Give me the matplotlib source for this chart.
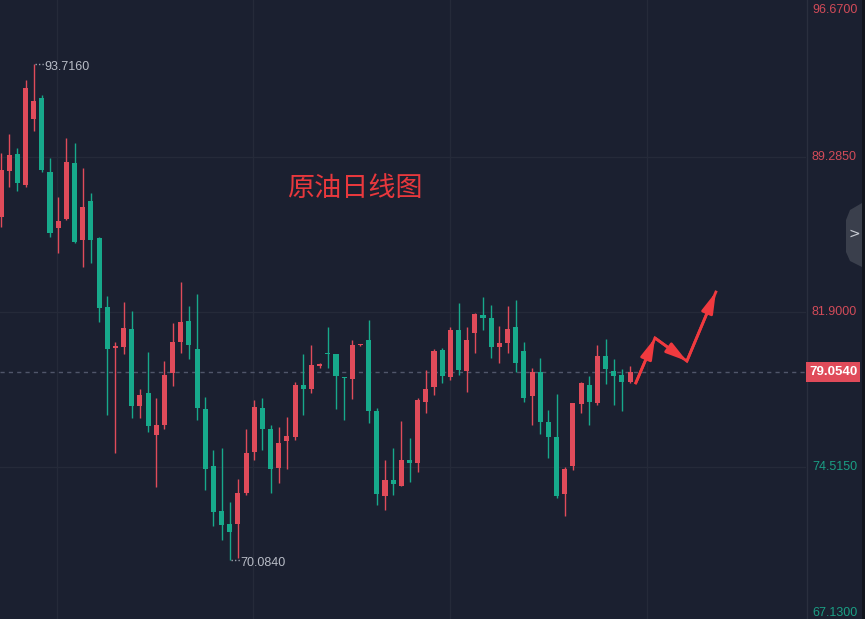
import matplotlib
matplotlib.use('Agg')
import matplotlib.pyplot as plt
import matplotlib.transforms as mtransforms
from matplotlib.patches import Rectangle, Polygon
import numpy as np

# daily crude oil candles (open / high / low / close)
opens = [86.43, 88.62, 89.43, 87.96, 91.10, 92.10, 88.57, 85.91, 86.34, 89.00,
         85.34, 87.19, 85.43, 82.15, 80.19, 80.24, 81.10, 77.43, 78.05, 76.05,
         76.53, 79.00, 80.48, 81.48, 80.15, 77.29, 74.57, 72.43, 71.81, 71.81,
         73.29, 75.24, 77.34, 76.34, 74.48, 75.77, 75.96, 78.43, 78.24, 79.36,
         79.93, 79.91, 78.79, 78.72, 80.32, 80.58, 77.19, 73.15, 73.91, 73.62,
         74.86, 74.72, 77.62, 78.34, 80.10, 78.81, 81.05, 79.10, 80.91, 81.77,
         81.62, 80.24, 80.43, 81.19, 80.05, 77.91, 79.05, 76.67, 75.96, 73.24,
         74.57, 77.53, 78.43, 77.57, 79.81, 79.10, 78.91, 78.57]
highs = [89.48, 90.38, 89.72, 92.96, 93.716, 92.24, 89.24, 87.38, 90.19, 89.96,
         88.77, 87.57, 85.48, 82.67, 80.48, 82.38, 81.96, 78.24, 80.00, 77.81,
         79.58, 81.38, 83.34, 82.19, 82.77, 77.86, 75.34, 75.43, 72.86, 73.96,
         76.34, 77.72, 77.81, 76.53, 76.43, 76.91, 78.57, 79.91, 80.34, 79.48,
         81.19, 79.91, 78.81, 80.58, 80.38, 81.53, 77.34, 74.86, 75.43, 76.72,
         75.91, 77.81, 79.15, 80.15, 80.19, 81.19, 82.34, 81.19, 81.86, 82.62,
         82.24, 81.24, 82.19, 82.48, 80.48, 79.24, 79.72, 77.24, 78.00, 74.53,
         77.57, 78.57, 78.86, 80.34, 80.62, 79.67, 79.19, 79.33]
lows = [85.96, 87.86, 87.67, 87.86, 90.53, 88.57, 85.48, 84.72, 86.29, 85.19,
        84.05, 84.24, 81.43, 77.00, 75.19, 79.91, 76.86, 76.86, 76.19, 73.57,
        76.34, 78.38, 79.96, 79.67, 76.77, 73.43, 71.72, 71.05, 70.084, 70.19,
        73.19, 74.86, 75.34, 73.29, 73.77, 74.43, 75.81, 77.00, 78.05, 79.24,
        79.24, 77.29, 76.77, 77.77, 80.30, 76.62, 72.72, 72.48, 73.19, 73.60,
        73.81, 74.29, 77.10, 77.96, 78.53, 78.67, 78.91, 78.10, 79.96, 81.05,
        79.72, 79.48, 79.96, 79.05, 77.62, 76.53, 76.10, 74.95, 73.05, 72.19,
        74.38, 77.10, 76.53, 77.48, 78.48, 77.48, 77.19, 78.53]
closes = [88.67, 89.38, 88.05, 92.57, 91.96, 88.67, 85.67, 86.24, 89.05, 85.24,
          86.91, 85.34, 82.10, 80.15, 80.29, 81.15, 77.43, 77.96, 76.48, 76.53,
          78.91, 80.48, 81.43, 80.34, 77.34, 74.43, 72.38, 71.77, 71.43, 73.29,
          75.19, 77.38, 76.34, 74.43, 75.67, 76.00, 78.43, 78.24, 79.38, 79.40,
          79.89, 78.86, 78.76, 80.34, 80.36, 77.19, 73.24, 73.91, 73.72, 74.86,
          74.72, 77.72, 78.24, 80.05, 78.86, 81.05, 79.15, 80.58, 81.81, 81.62,
          80.24, 80.43, 81.10, 79.48, 77.81, 79.05, 76.67, 75.96, 73.15, 74.43,
          77.57, 78.53, 77.62, 79.81, 79.19, 78.86, 78.57, 79.054]

price_ticks = [96.67, 89.285, 81.9, 74.515, 67.13]
price_labels = ['96.6700', '89.2850', '81.9000', '74.5150', '67.1300']
last_price = 79.054
hi_mark = (4, 93.716, '93.7160')
lo_mark = (28, 70.084, '70.0840')
# hand-drawn forecast arrows (candle index, price)
arrow_path = [(77.7, 78.53), (80.05, 80.67), (83.95, 79.57), (87.5, 82.86)]
title = '原油日线图'

BG = '#1b2030'
RED = '#e04b5a'
GREEN = '#17a98b'
GRID = '#252a39'
ARROW = '#f03a3f'

W, H = 865, 619
fig = plt.figure(figsize=(W / 100, H / 100), dpi=100, facecolor=BG)
ax = fig.add_axes([0, 0, 806 / W, 1], facecolor=BG)

step = 8.17
ax.set_xlim(-1 / step, -1 / step + 806 / step)
ytop = 96.67 + 2 / 21.0
ax.set_ylim(ytop - H / 21.0, ytop)

# grid
ax.set_yticks(price_ticks[1:4])
ax.set_xticks([6.85, 30.85, 55.0, 79.1])
ax.grid(True, color=GRID, lw=1)
ax.tick_params(left=False, bottom=False, labelleft=False, labelbottom=False)
for s in ax.spines.values():
    s.set_visible(False)

x = np.arange(len(opens))
o = np.array(opens); c = np.array(closes)
cols = [RED if cc >= oo else GREEN for oo, cc in zip(o, c)]
ax.vlines(x, lows, highs, colors=cols, lw=1, zorder=3)
bottoms = np.minimum(o, c)
heights = np.maximum(np.abs(c - o), 0.07)
ax.bar(x, heights, bottom=bottoms, width=0.62, color=cols, lw=0, zorder=4)

# last price dashed line
ax.axhline(last_price, color='#50566a', lw=1, ls=(0, (3, 3)), zorder=2)

# high / low markers
for i, p, s in [hi_mark, lo_mark]:
    ax.plot([i + 0.15, i + 1.3], [p, p], color='#9a9fab', lw=1, ls=(0, (1, 1.5)), zorder=5)
    ax.text(i + 1.3, p - 0.15, s, color='#b8bcc6', fontsize=9,
            family='Liberation Sans', va='center', ha='left')

# arrows: one polyline plus a head on each leg
ax.plot([p[0] for p in arrow_path], [p[1] for p in arrow_path], color=ARROW, lw=2,
        solid_joinstyle='miter', zorder=6)
for (x0, y0), (x1, y1) in zip(arrow_path[:-1], arrow_path[1:]):
    ax.annotate('', xy=(x1, y1), xytext=(x0, y0), zorder=7,
                arrowprops=dict(arrowstyle='-|>,head_length=0.9,head_width=0.25',
                                color=ARROW, lw=2,
                                mutation_scale=14, shrinkA=0, shrinkB=0))

fig.text(355 / W, 1 - 188 / H, title, color='#e8383d', fontsize=19.5,
         ha='center', va='center', family=['Noto Sans CJK SC', 'DejaVu Sans'])

# right price scale
trans = mtransforms.blended_transform_factory(fig.transFigure, ax.transData)
fig.add_artist(plt.Line2D([806.5 / W, 806.5 / W], [0, 1], color='#2a2f3e', lw=1))
for i, (p, lab) in enumerate(zip(price_ticks, price_labels)):
    col = '#d24b59' if p > last_price else '#1a9e84'
    va = 'center'
    yy = p
    if i == 0:
        va = 'top'
        yy = p - 0.08
    elif i == len(price_ticks) - 1:
        va = 'bottom'
        yy = ytop - H / 21.0 + 0.02
    ax.text(812 / W, yy, lab, transform=trans, color=col, fontsize=9,
            family='Liberation Sans', va=va, ha='left')

fig.add_artist(Rectangle((806 / W, 1 - 382 / H), 54 / W, 20 / H,
                         transform=fig.transFigure, facecolor=RED, edgecolor='none', zorder=5))
fig.text(833 / W, 1 - 372 / H, '%.4f' % last_price, color='white', zorder=6,
         fontsize=9.5, fontweight='bold', family='Liberation Sans', ha='center', va='center')

# collapse tab and right strip
fig.add_artist(Polygon([(862 / W, 1 - 203 / H), (850 / W, 1 - 210 / H), (846 / W, 1 - 220 / H),
                        (846 / W, 1 - 252 / H), (850 / W, 1 - 261 / H), (862 / W, 1 - 267 / H)],
                       closed=True, transform=fig.transFigure, facecolor='#3a3f4c', edgecolor='none'))
fig.text(854 / W, 1 - 234 / H, '>', color='#c8ccd4', fontsize=10, ha='center', va='center')
fig.add_artist(Rectangle((862 / W, 0), 3 / W, 1, transform=fig.transFigure,
                         facecolor='#11141c', edgecolor='none'))

fig.savefig('out.png', dpi=100, facecolor=BG)
